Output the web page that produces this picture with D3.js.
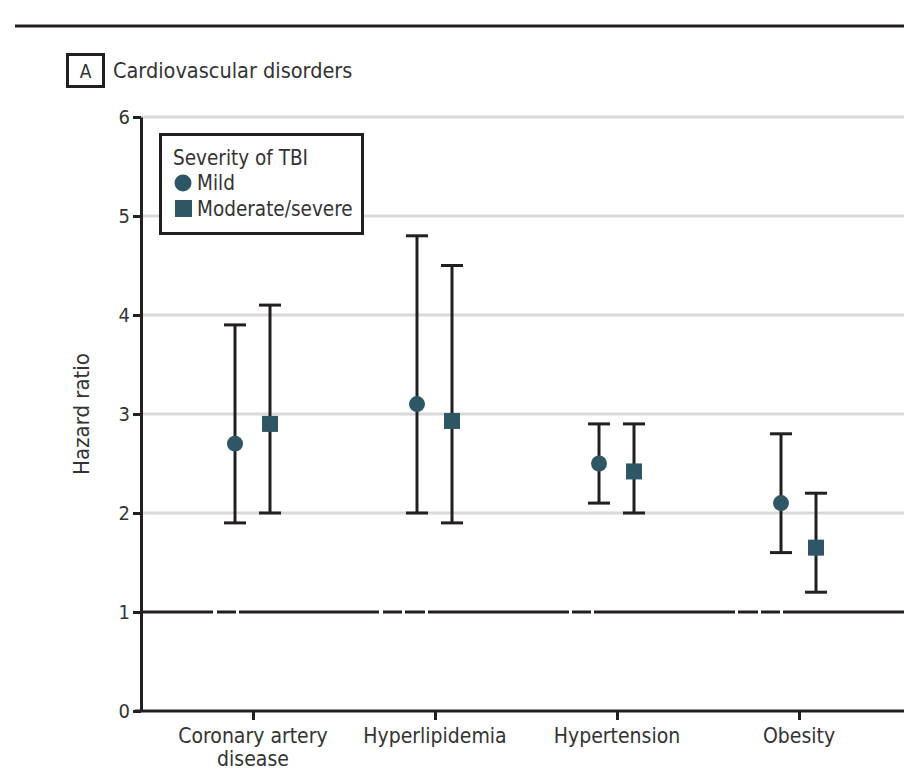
<!DOCTYPE html>
<html>
<head>
<meta charset="utf-8">
<script src="https://cdn.jsdelivr.net/npm/d3@7"></script>
<style>
  body { margin: 0; background: #fff; }
  svg text { font-family: "Liberation Sans Narrow", "DejaVu Sans Condensed", "Roboto Condensed", sans-serif; fill: #333; }
</style>
</head>
<body>
<svg id="chart"></svg>
<script>
// hazard ratios by severity of TBI, with 95% CI
const categories = ["Coronary artery disease", "Hyperlipidemia", "Hypertension", "Obesity"]
const categoryLines = [["Coronary artery", "disease"], ["Hyperlipidemia"], ["Hypertension"], ["Obesity"]]
const mildHR   = [2.7, 3.1, 2.5, 2.1]
const mildLow  = [1.9, 2.0, 2.1, 1.6]
const mildHigh = [3.9, 4.8, 2.9, 2.8]
const modHR    = [2.9, 2.93, 2.42, 1.65]
const modLow   = [2.0, 1.9, 2.0, 1.2]
const modHigh  = [4.1, 4.5, 2.9, 2.2]
const yTicks = [0, 1, 2, 3, 4, 5, 6]

const width = 904, height = 770
const ink = "#231f20", teal = "#2e5665"

const svg = d3.select("#chart").attr("width", width).attr("height", height)

const x = d3.scalePoint().domain(categories).range([253, 799])
const y = d3.scaleLinear().domain([0, 6]).range([711, 117])
const left = 141, right = 904

// rule at the top of the panel
svg.append("line")
   .attr("x1", 15).attr("x2", right).attr("y1", 26).attr("y2", 26)
   .attr("stroke", ink).attr("stroke-width", 3)

// panel label
svg.append("rect")
   .attr("x", 67.5).attr("y", 54.5).attr("width", 36).attr("height", 32)
   .attr("fill", "none").attr("stroke", ink).attr("stroke-width", 3)
svg.append("text").attr("x", 85.5).attr("y", 78).attr("text-anchor", "middle")
   .attr("font-size", 19).text("A")
svg.append("text").attr("x", 113).attr("y", 78)
   .attr("font-size", 21.5).text("Cardiovascular disorders")

// gridlines
svg.append("g").selectAll("line")
   .data(yTicks.filter(d => d > 1))
   .join("line")
   .attr("x1", left).attr("x2", right)
   .attr("y1", d => y(d)).attr("y2", d => y(d))
   .attr("stroke", "#d9d9db").attr("stroke-width", 3)

// reference line at HR = 1
svg.append("line")
   .attr("x1", left).attr("x2", right).attr("y1", y(1)).attr("y2", y(1))
   .attr("stroke", ink).attr("stroke-width", 3)
   .attr("stroke-dasharray", "72,4,19,3,140,4,19,3,20,3,141,3,19,3,141,3,20,3,19,3,200")

// y axis
const yAxis = svg.append("g")
   .attr("transform", `translate(${left},0)`)
   .call(d3.axisLeft(y).tickValues(yTicks).tickSize(8).tickSizeOuter(0).tickFormat(d3.format("d")))
yAxis.select(".domain").attr("stroke", ink).attr("stroke-width", 3)
yAxis.selectAll(".tick line").attr("stroke", ink).attr("stroke-width", 3)
yAxis.selectAll(".tick text").attr("font-size", 20).attr("x", -11).attr("dy", "0.34em")
     .attr("font-family", null).style("fill", "#333")

svg.append("text")
   .attr("transform", `translate(89,${y(3)}) rotate(-90)`)
   .attr("text-anchor", "middle").attr("font-size", 22)
   .text("Hazard ratio")

// x axis
svg.append("line")
   .attr("x1", left - 6).attr("x2", right).attr("y1", y(0)).attr("y2", y(0))
   .attr("stroke", ink).attr("stroke-width", 3)
const xAxis = svg.append("g")
   .attr("transform", `translate(0,${y(0)})`)
   .call(d3.axisBottom(x).tickSize(9).tickSizeOuter(0).tickFormat(""))
xAxis.select(".domain").remove()
xAxis.selectAll(".tick line").attr("stroke", ink).attr("stroke-width", 3)

const labels = svg.append("g").selectAll("text")
   .data(categories)
   .join("text")
   .attr("x", d => x(d)).attr("y", 743)
   .attr("text-anchor", "middle").attr("font-size", 21)
labels.selectAll("tspan")
   .data((d, i) => categoryLines[i])
   .join("tspan")
   .attr("x", function () { return d3.select(this.parentNode).attr("x") })
   .attr("dy", (d, i) => i === 0 ? 0 : 23)
   .text(d => d)

// error bars + markers
const series = [
  { name: "Mild", hr: mildHR, lo: mildLow, hi: mildHigh, dx: -18, shape: "circle" },
  { name: "Moderate/severe", hr: modHR, lo: modLow, hi: modHigh, dx: 17, shape: "square" }
]
const capW = 22

series.forEach(s => {
  const g = svg.append("g")
  const rows = categories.map((c, i) => ({ c, hr: s.hr[i], lo: s.lo[i], hi: s.hi[i] }))
  const px = d => x(d.c) + s.dx

  g.selectAll(".whisker").data(rows).join("line")
   .attr("x1", px).attr("x2", px)
   .attr("y1", d => y(d.lo)).attr("y2", d => y(d.hi))
   .attr("stroke", ink).attr("stroke-width", 3)
  g.selectAll(".capHi").data(rows).join("line")
   .attr("x1", d => px(d) - capW / 2).attr("x2", d => px(d) + capW / 2)
   .attr("y1", d => y(d.hi)).attr("y2", d => y(d.hi))
   .attr("stroke", ink).attr("stroke-width", 3)
  g.selectAll(".capLo").data(rows).join("line")
   .attr("x1", d => px(d) - capW / 2).attr("x2", d => px(d) + capW / 2)
   .attr("y1", d => y(d.lo)).attr("y2", d => y(d.lo))
   .attr("stroke", ink).attr("stroke-width", 3)

  if (s.shape === "circle") {
    g.selectAll(".pt").data(rows).join("circle")
     .attr("cx", px).attr("cy", d => y(d.hr)).attr("r", 8)
     .attr("fill", teal)
  } else {
    g.selectAll(".pt").data(rows).join("rect")
     .attr("x", d => px(d) - 8).attr("y", d => y(d.hr) - 8)
     .attr("width", 16).attr("height", 16)
     .attr("fill", teal)
  }
})

// legend
const legend = svg.append("g")
legend.append("rect")
   .attr("x", 160.5).attr("y", 134.5).attr("width", 202).attr("height", 99)
   .attr("fill", "#fff").attr("stroke", ink).attr("stroke-width", 3)
legend.append("text").attr("x", 173).attr("y", 165).attr("font-size", 20.5).text("Severity of TBI")
legend.append("circle").attr("cx", 183).attr("cy", 183).attr("r", 8.5).attr("fill", teal)
legend.append("text").attr("x", 197).attr("y", 190).attr("font-size", 20.5).text("Mild")
legend.append("rect").attr("x", 175).attr("y", 200).attr("width", 17).attr("height", 17).attr("fill", teal)
legend.append("text").attr("x", 197).attr("y", 216).attr("font-size", 20.5).text("Moderate/severe")
</script>
</body>
</html>
